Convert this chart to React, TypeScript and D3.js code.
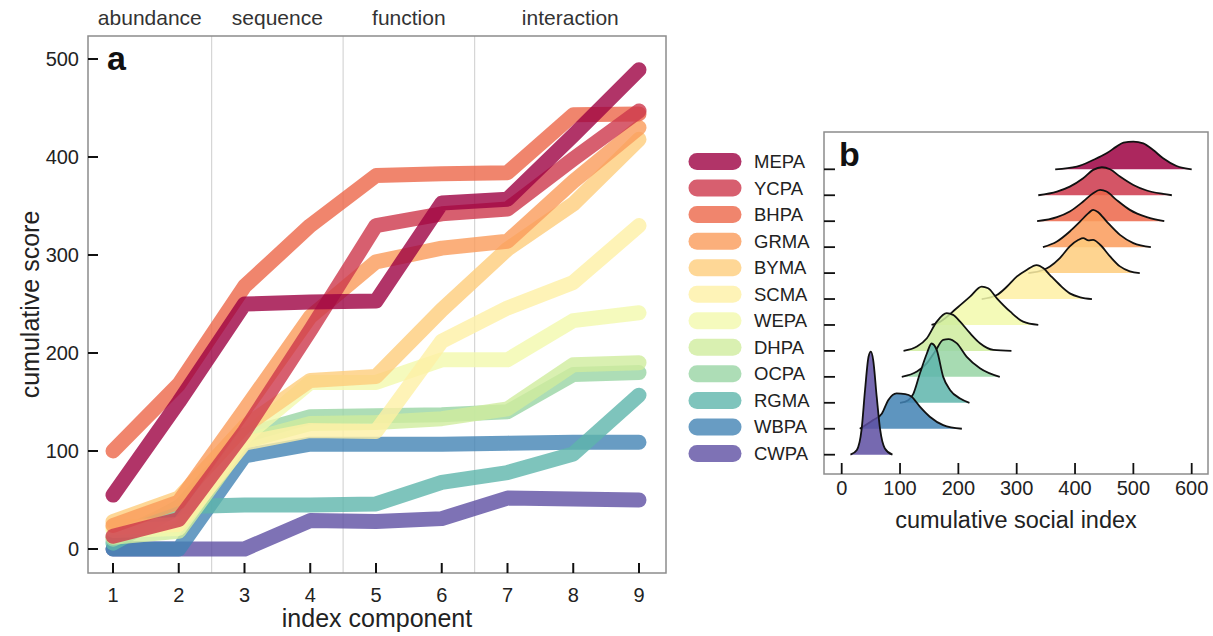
import React from "react";
import * as d3 from "d3";

// species, top of the legend first
const species = ["MEPA", "YCPA", "BHPA", "GRMA", "BYMA", "SCMA", "WEPA", "DHPA", "OCPA", "RGMA", "WBPA", "CWPA"];
const components = [1, 2, 3, 4, 5, 6, 7, 8, 9];
const groups = ["abundance", "sequence", "function", "interaction"];
const groupBreaks = [2.5, 4.5, 6.5];
const scoreTicks = [0, 100, 200, 300, 400, 500];
const socialTicks = [0, 100, 200, 300, 400, 500, 600];

// cumulative score at each index component (panel a)
const MEPA = [55, 150, 250, 252, 253, 353, 357, 422, 489];
const YCPA = [13, 30, 120, 223, 330, 342, 347, 398, 447];
const BHPA = [100, 168, 268, 330, 381, 383, 384, 443, 444];
const GRMA = [24, 48, 142, 237, 293, 307, 314, 375, 430];
const BYMA = [28, 52, 125, 172, 176, 244, 306, 352, 418];
const SCMA = [22, 25, 108, 121, 120, 212, 246, 272, 330];
const WEPA = [19, 21, 114, 170, 170, 193, 193, 233, 241];
const DHPA = [12, 18, 110, 128, 129, 133, 143, 188, 190];
const OCPA = [10, 42, 116, 135, 136, 137, 140, 178, 180];
const RGMA = [6, 43, 45, 45, 46, 68, 78, 97, 157];
const WBPA = [0, 0, 95, 107, 107, 107, 108, 109, 109];
const CWPA = [0, 0, 0, 29, 28, 31, 52, 51, 50];
const scores = [MEPA, YCPA, BHPA, GRMA, BYMA, SCMA, WEPA, DHPA, OCPA, RGMA, WBPA, CWPA];

// density ridges (panel b): social index values and relative density (tallest = 100)
const densX = [
  [366, 403, 431, 454, 471, 483, 500, 517, 534, 551, 574, 600],
  [337, 369, 391, 414, 431, 446, 460, 477, 500, 523, 551, 566],
  [335, 369, 391, 414, 431, 443, 454, 471, 494, 523, 553],
  [345, 369, 391, 409, 423, 431, 440, 454, 477, 500, 530],
  [320, 346, 357, 374, 391, 406, 414, 423, 431, 443, 460, 477, 494, 511],
  [240, 266, 283, 300, 317, 334, 346, 357, 374, 391, 409, 429],
  [154, 169, 197, 220, 240, 251, 266, 289, 311, 337],
  [106, 129, 146, 163, 180, 191, 203, 220, 237, 260, 291],
  [103, 129, 146, 160, 174, 183, 197, 214, 237, 271],
  [100, 114, 123, 134, 146, 154, 163, 174, 186, 203, 219],
  [31, 54, 69, 80, 94, 109, 120, 134, 151, 174, 206],
  [15, 26, 34, 40, 46, 50, 54, 60, 66, 74, 87],
];
const densY = [
  [0, 2.6, 9.0, 15.5, 22.0, 25.9, 26.9, 25.2, 18.7, 10.7, 3.2, 0],
  [0, 3.6, 8.4, 16.5, 24.6, 27.2, 25.2, 18.2, 10.0, 4.6, 1.3, 0],
  [0, 3.9, 9.4, 19.1, 27.2, 30.4, 28.8, 20.7, 11.0, 3.9, 0],
  [0, 5.5, 15.2, 25, 33, 36.2, 33.7, 25, 11.9, 3.9, 0],
  [0, 3.2, 6.5, 14.6, 25.9, 32.3, 34, 31.7, 32.3, 27.5, 16.2, 6.5, 1.7, 0],
  [0, 3.9, 11.9, 21.7, 28.2, 33, 29.8, 23.3, 13.6, 5.5, 1.7, 0],
  [0, 3.2, 16.2, 27.5, 37.2, 35.6, 25.9, 12.9, 3.2, 0],
  [0, 4.2, 12.3, 28.4, 36.6, 35, 28.4, 17.2, 7.5, 1, 0],
  [0, 5.1, 13.3, 24.6, 35.9, 36.6, 32.7, 19.7, 8.4, 0],
  [0, 2.6, 9, 28.4, 47.9, 57.6, 51.2, 25.2, 12.3, 4.2, 0],
  [0, 8.4, 14.9, 27.9, 34.3, 33.7, 31.1, 21.4, 11.7, 3.6, 0],
  [0, 4.6, 24, 62.8, 95.1, 100, 91.9, 56.3, 24, 6.1, 0],
];

const FONT = "'Liberation Sans', Arial, Helvetica, sans-serif";
const color = (i: number) => d3.interpolateSpectral(i / (species.length - 1));

export default function App() {
  // panel a
  const A = { left: 88, top: 36, right: 666, bottom: 573 };
  const x = d3.scaleLinear().domain([1, 9]).range([113, 639]);
  const y = d3.scaleLinear().domain([0, 500]).range([549, 59]);
  const line = d3
    .line<number>()
    .x((_, i) => x(components[i]))
    .y((d) => y(d));
  const edges = [A.left, ...groupBreaks.map((b) => x(b)), A.right];

  // legend
  const ly = d3.scalePoint<string>().domain(species).range([161.5, 453.5]);

  // panel b
  const B = { left: 824, top: 132, right: 1208, bottom: 474 };
  const bx = d3.scaleLinear().domain([0, 600]).range([841.7, 1191.7]);
  const by = d3.scalePoint<string>().domain(species).range([169.3, 454.7]);
  const bh = d3.scaleLinear().domain([0, 100]).range([0, 103]);

  return (
    <svg
      width={1213}
      height={636}
      style={{ position: "absolute", left: 0, top: 0, background: "#fff" }}
      fontFamily={FONT}
    >
      {/* group headers */}
      {groups.map((g, i) => (
        <text
          key={g}
          x={(edges[i] + edges[i + 1]) / 2}
          y={25}
          textAnchor="middle"
          fontSize={21}
          fill="#333"
        >
          {g}
        </text>
      ))}

      {/* separators */}
      {groupBreaks.map((b) => (
        <line key={b} x1={x(b)} x2={x(b)} y1={A.top} y2={A.bottom} stroke="#d6d6d6" strokeWidth={1.2} />
      ))}

      {/* lines, last species drawn first */}
      {scores
        .map((s, i) => ({ s, i }))
        .reverse()
        .map(({ s, i }) => (
          <path
            key={species[i]}
            d={line(s) || ""}
            fill="none"
            stroke={color(i)}
            strokeOpacity={0.8}
            strokeWidth={15}
            strokeLinecap="round"
            strokeLinejoin="round"
          />
        ))}

      <rect x={A.left} y={A.top} width={A.right - A.left} height={A.bottom - A.top} fill="none" stroke="#8c8c8c" strokeWidth={1.5} />

      {/* y axis */}
      {scoreTicks.map((t) => (
        <g key={t}>
          <line x1={A.left} x2={A.left + 10} y1={y(t)} y2={y(t)} stroke="#111" strokeWidth={2} />
          <text x={79} y={y(t) + 7} textAnchor="end" fontSize={20} fill="#222">
            {t}
          </text>
        </g>
      ))}
      {/* x axis */}
      {components.map((c) => (
        <g key={c}>
          <line x1={x(c)} x2={x(c)} y1={A.bottom} y2={A.bottom - 10} stroke="#111" strokeWidth={2} />
          <text x={x(c)} y={602} textAnchor="middle" fontSize={20} fill="#222">
            {c}
          </text>
        </g>
      ))}
      <text x={(A.left + A.right) / 2} y={627} textAnchor="middle" fontSize={25} fill="#222">
        index component
      </text>
      <text transform={`translate(39, ${(A.top + A.bottom) / 2}) rotate(-90)`} textAnchor="middle" fontSize={25} fill="#222">
        cumulative score
      </text>
      <text x={107} y={70} fontSize={34} fontWeight="bold" fill="#111">
        a
      </text>

      {/* legend */}
      {species.map((s, i) => (
        <g key={s}>
          <line
            x1={697}
            x2={733}
            y1={ly(s)}
            y2={ly(s)}
            stroke={color(i)}
            strokeOpacity={0.8}
            strokeWidth={17}
            strokeLinecap="round"
          />
          <text x={754} y={(ly(s) as number) + 6.5} fontSize={18.5} fill="#222">
            {s}
          </text>
        </g>
      ))}

      {/* panel b ridges */}
      {species.map((s, i) => {
        const base = by(s) as number;
        const pts = densX[i].map((v, j) => [v, densY[i][j]] as [number, number]);
        const area = d3
          .area<[number, number]>()
          .x((d) => bx(d[0]))
          .y0(base)
          .y1((d) => base - bh(d[1]))
          .curve(d3.curveMonotoneX);
        const top = d3
          .line<[number, number]>()
          .x((d) => bx(d[0]))
          .y((d) => base - bh(d[1]))
          .curve(d3.curveMonotoneX);
        return (
          <g key={s}>
            <path d={area(pts) || ""} fill={color(i)} fillOpacity={0.85} />
            <path d={top(pts) || ""} fill="none" stroke="#111" strokeWidth={1.8} strokeLinejoin="round" />
          </g>
        );
      })}

      <rect x={B.left} y={B.top} width={B.right - B.left} height={B.bottom - B.top} fill="none" stroke="#8c8c8c" strokeWidth={1.5} />
      {species.map((s) => (
        <line key={s} x1={B.left} x2={B.left + 11} y1={by(s)} y2={by(s)} stroke="#111" strokeWidth={1.8} />
      ))}
      {socialTicks.map((t) => (
        <g key={t}>
          <line x1={bx(t)} x2={bx(t)} y1={B.bottom} y2={B.bottom - 11} stroke="#111" strokeWidth={1.8} />
          <text x={bx(t)} y={495} textAnchor="middle" fontSize={20} fill="#222">
            {t}
          </text>
        </g>
      ))}
      <text x={1016} y={528} textAnchor="middle" fontSize={23.5} fill="#222">
        cumulative social index
      </text>
      <text x={839} y={166} fontSize={34} fontWeight="bold" fill="#111">
        b
      </text>
    </svg>
  );
}
